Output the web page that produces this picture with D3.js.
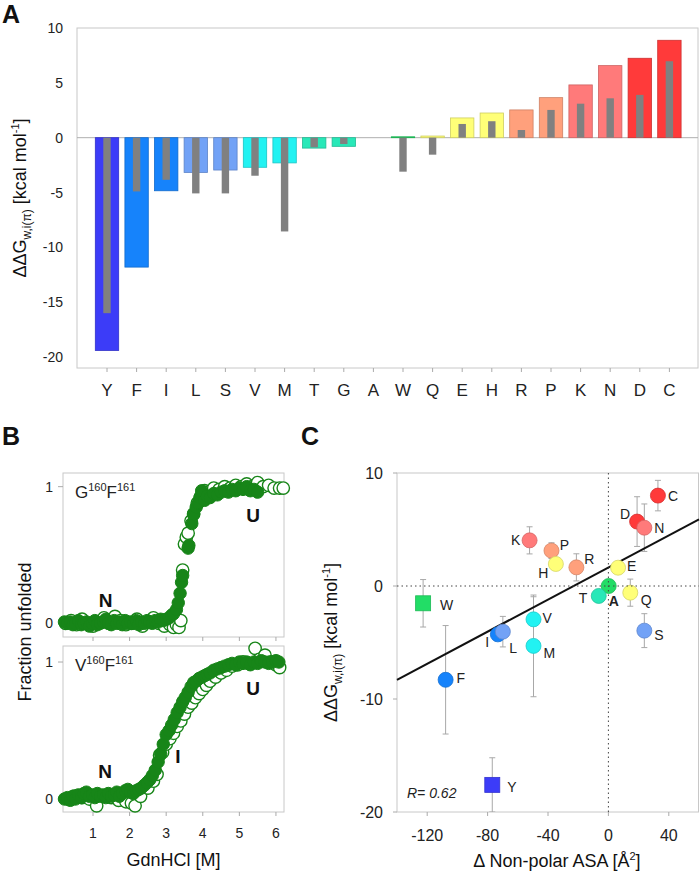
<!DOCTYPE html>
<html><head><meta charset="utf-8">
<script src="https://cdn.jsdelivr.net/npm/d3@7"></script>
<style>
body{margin:0;background:#fff;}
svg text{font-family:"Liberation Sans",Arial,sans-serif;}
</style></head>
<body><svg id="chart" width="700" height="871"></svg>
<script>
// ---------- Panel A data ----------
const aminoAcids = ['Y','F','I','L','S','V','M','T','G','A','W','Q','E','H','R','P','K','N','D','C'];
const ddgTotal = [-19.4,-11.8,-4.84,-3.17,-2.95,-2.7,-2.3,-0.95,-0.79,0,0.08,0.15,1.8,2.25,2.53,3.65,4.81,6.57,7.24,8.88];
const ddgPart  = [-16.0,-4.9,-3.84,-5.08,-5.08,-3.47,-8.55,-0.88,-0.58,0,-3.1,-1.55,1.25,1.5,0.7,2.53,3.1,3.59,3.9,6.97];
const yTicksA = [10,5,0,-5,-10,-15,-20];

// ---------- Panel B data (GdnHCl [M], fraction unfolded) ----------
const gfFilled = [[0.22,0.01],[0.3,0.0],[0.38,0.01],[0.45,-0.01],[0.52,0.0],[0.6,0.02],[0.68,-0.01],[0.75,0.0],[0.82,0.01],[0.9,-0.02],[0.98,0.0],[1.05,0.02],[1.12,-0.01],[1.2,0.0],[1.28,0.01],[1.35,0.03],[1.42,0.0],[1.5,-0.01],[1.58,0.02],[1.65,0.0],[1.72,0.01],[1.8,-0.01],[1.88,0.02],[1.95,0.0],[2.02,0.01],[2.1,0.0],[2.18,0.02],[2.25,-0.01],[2.32,0.01],[2.4,0.0],[2.48,0.02],[2.55,0.01],[2.62,0.0],[2.7,0.02],[2.78,0.01],[2.85,0.03],[2.92,0.02],[3.0,0.03],[3.08,0.04],[3.15,0.06],[3.2,0.07],[3.28,0.1],[3.33,0.15],[3.38,0.22],[3.42,0.3],[3.45,0.35],[3.6,0.55],[3.62,0.57],[3.7,0.73],[3.75,0.8],[3.82,0.85],[3.88,0.88],[3.92,0.92],[3.97,0.97],[4.05,0.9],[4.12,0.93],[4.2,0.92],[4.3,0.95],[4.4,0.94],[4.5,0.96],[4.6,0.97],[4.7,0.96],[4.8,0.98],[4.9,0.97],[5.0,0.99],[5.1,0.98],[5.2,1.0],[5.3,0.97],[5.4,0.98],[5.5,0.96]];
const gfOpen = [[0.25,0.0],[0.4,0.02],[0.55,-0.01],[0.7,0.03],[0.85,0.0],[1.0,-0.02],[1.15,0.01],[1.3,0.04],[1.45,0.0],[1.6,0.05],[1.75,0.02],[1.9,-0.01],[2.05,0.0],[2.2,0.03],[2.35,-0.02],[2.5,0.01],[2.65,0.04],[2.8,0.0],[2.95,-0.02],[3.1,-0.01],[3.2,-0.03],[3.28,-0.01],[3.35,-0.03],[3.4,0.02],[3.45,0.39],[3.5,0.58],[3.55,0.63],[3.6,0.66],[3.68,0.75],[3.75,0.8],[3.85,0.88],[3.95,0.93],[4.05,0.97],[4.15,0.96],[4.3,0.99],[4.45,0.98],[4.6,1.0],[4.75,0.99],[4.9,1.01],[5.05,1.0],[5.2,1.02],[5.35,1.0],[5.5,1.03],[5.65,1.0],[5.8,1.01],[5.95,0.99],[6.1,0.99],[6.2,0.99]];
const vfFilled = [[0.22,0.0],[0.3,0.01],[0.38,-0.01],[0.45,0.02],[0.52,0.0],[0.6,0.03],[0.68,0.01],[0.75,0.04],[0.82,0.05],[0.9,0.02],[0.98,0.03],[1.05,0.01],[1.12,0.04],[1.2,0.02],[1.28,0.03],[1.35,0.01],[1.42,0.04],[1.5,0.02],[1.58,0.03],[1.65,0.05],[1.72,0.02],[1.8,0.04],[1.88,0.06],[1.95,0.07],[2.02,0.05],[2.1,0.04],[2.18,0.06],[2.25,0.07],[2.32,0.08],[2.4,0.1],[2.48,0.12],[2.55,0.14],[2.62,0.17],[2.7,0.21],[2.78,0.27],[2.85,0.33],[2.92,0.4],[3.0,0.47],[3.08,0.5],[3.15,0.54],[3.22,0.58],[3.3,0.63],[3.38,0.67],[3.45,0.71],[3.52,0.74],[3.6,0.78],[3.68,0.82],[3.75,0.85],[3.82,0.86],[3.9,0.88],[3.98,0.89],[4.05,0.9],[4.12,0.91],[4.2,0.92],[4.3,0.94],[4.4,0.95],[4.5,0.96],[4.6,0.97],[4.7,0.98],[4.8,0.99],[4.9,0.98],[5.0,1.0],[5.1,0.99],[5.2,1.0],[5.3,0.98],[5.4,1.0],[5.5,0.99],[5.6,1.01],[5.7,1.0],[5.8,0.99],[5.9,1.0],[6.0,1.01],[6.08,1.0]];
const vfOpen = [[0.3,0.0],[0.5,0.02],[0.7,0.01],[0.9,0.0],[1.1,-0.05],[1.3,0.02],[1.5,0.01],[1.7,-0.01],[1.9,-0.02],[2.05,-0.03],[2.15,-0.05],[2.3,0.02],[2.5,0.08],[2.65,0.13],[2.75,0.18],[2.82,0.32],[2.9,0.34],[3.0,0.4],[3.1,0.44],[3.2,0.48],[3.3,0.53],[3.4,0.57],[3.5,0.62],[3.6,0.67],[3.7,0.7],[3.8,0.74],[3.9,0.77],[4.0,0.8],[4.1,0.83],[4.2,0.86],[4.35,0.89],[4.5,0.92],[4.65,0.94],[4.8,0.97],[4.95,0.98],[5.1,1.0],[5.25,0.99],[5.43,1.1],[5.55,1.02],[5.7,1.05],[5.85,1.0],[6.0,0.98],[6.1,0.96]];
const xTicksB = [1,2,3,4,5,6];
const yTicksB = [0,1];

// ---------- Panel C data ----------
const asaLabels = ['C','D','N','K','P','H','R','E','A','T','Q','W','V','S','I','L','M','F','Y'];
const asaX   = [32.8,19,23.8,-52.2,-37.7,-34.8,-21.2,6.4,0.2,-6.4,14.5,-122.7,-49.6,23.8,-73.2,-69.9,-49.6,-107.8,-76.9];
const asaY   = [8.0,5.7,5.16,4.04,3.13,1.95,1.65,1.62,0,-0.88,-0.59,-1.53,-2.95,-3.95,-4.28,-4.04,-5.3,-8.3,-17.6];
const asaErr = [1.35,2.2,2.1,1.2,0.7,0.5,1.2,0.5,0,0.5,1.2,2.1,2.0,1.5,0.5,1.35,4.5,4.8,2.4];
const fitX = [-140,60];
const fitY = [-8.3,5.9];
const xTicksC = [-120,-80,-40,0,40];
const yTicksC = [10,0,-10,-20];

// ---------- styles ----------
const aaColor = {Y:'#3c3cf8',F:'#1683fb',I:'#1683fb',L:'#72a2f6',S:'#72a2f6',V:'#22f2f2',M:'#22f2f2',
  T:'#28e8b8',G:'#28e8b8',A:'#22dd66',W:'#22dd66',Q:'#ffff78',E:'#ffff78',H:'#ffff78',
  R:'#ffa07c',P:'#ffa07c',K:'#ff7a7a',N:'#ff7a7a',D:'#ff3a3a',C:'#ff3a3a'};
const squareAA = new Set(['W','Y']);
const labelOffset = {C:[10,5,'start'],D:[-12,-3,'middle'],N:[15,5,'middle'],K:[-14,5,'middle'],P:[13,-1,'middle'],
  H:[-12.6,14,'middle'],R:[13,-3,'middle'],E:[9,3,'start'],A:[5,20,'middle'],T:[-15.6,7,'middle'],Q:[16,12,'middle'],
  W:[17,7,'start'],V:[9,4,'start'],S:[10,9,'start'],I:[-10.6,13,'middle'],L:[10.4,21,'middle'],M:[10,12,'start'],
  F:[11,3,'start'],Y:[15,7,'start']};
const frameColor = '#c8c8c8', tickColor = '#aaa', textColor = '#222', green = '#178518';

const svg = d3.select('#chart');

function panelLetter(t, x, y){
  svg.append('text').attr('x',x).attr('y',y).attr('font-size',25).attr('font-weight','bold').attr('fill','#111').text(t);
}
function ddgTitle(g, cx, cy){
  const t = g.append('text').attr('transform',`translate(${cx},${cy}) rotate(-90)`).attr('text-anchor','middle')
    .attr('font-size',18).attr('fill','#111');
  t.append('tspan').text('ΔΔG');
  t.append('tspan').attr('font-size',12).attr('dy',5).text('w,i(π)');
  t.append('tspan').attr('dy',-5).text(' [kcal mol');
  t.append('tspan').attr('font-size',11).attr('dy',-7).text('-1');
  t.append('tspan').attr('dy',7).text(']');
}

// ================= Panel A =================
panelLetter('A', 2, 23);
const A = {l:77, r:698, t:28, b:368};
const xA = d3.scaleBand().domain(aminoAcids).range([92.2, 684.2]).paddingInner(0.21).paddingOuter(0.105);
const yA = d3.scaleLinear().domain([-21,10]).range([A.b, A.t]);
const gA = svg.append('g');
gA.append('rect').attr('x',A.l).attr('y',A.t).attr('width',A.r-A.l).attr('height',A.b-A.t)
  .attr('fill','none').attr('stroke',frameColor);
gA.append('line').attr('x1',A.l).attr('x2',A.r).attr('y1',yA(0)).attr('y2',yA(0)).attr('stroke','#b0b0b0');
gA.selectAll('.ya').data(yTicksA).join('text').attr('x',A.l-14).attr('y',d=>yA(d)+5)
  .attr('text-anchor','end').attr('font-size',14).attr('fill',textColor).text(d=>d);
const xAxisA = d3.axisBottom(xA).tickSize(4).tickPadding(12);
const axA = gA.append('g').attr('transform',`translate(0,${A.b})`).call(xAxisA);
axA.select('.domain').remove();
axA.selectAll('line').attr('stroke',tickColor);
axA.selectAll('text').attr('font-size',17).attr('fill',textColor).attr('font-family','"Liberation Sans",Arial,sans-serif');
const bw = xA.bandwidth();
gA.selectAll('.bar').data(aminoAcids).join('rect')
  .attr('x',d=>xA(d)).attr('width',bw)
  .attr('y',(d,i)=>yA(Math.max(0,ddgTotal[i]))).attr('height',(d,i)=>Math.abs(yA(ddgTotal[i])-yA(0)))
  .attr('fill',d=>aaColor[d]).attr('stroke',d=>d3.color(aaColor[d]).darker(0.6)).attr('stroke-width',0.8)
  .attr('display',(d,i)=>ddgTotal[i]===0?'none':null);
const gw = 7.4;
gA.selectAll('.pbar').data(aminoAcids).join('rect')
  .attr('x',d=>xA(d)+bw/2-gw/2).attr('width',gw)
  .attr('y',(d,i)=>yA(Math.max(0,ddgPart[i]))).attr('height',(d,i)=>Math.abs(yA(ddgPart[i])-yA(0)))
  .attr('fill','#808080');
ddgTitle(gA, 26, (A.t+A.b)/2);

// ================= Panel B =================
panelLetter('B', 2, 445);
const B = {l:63, r:284};
const subs = [
  {t:473, b:637, dom:[-0.1,1.1], open:gfOpen, filled:gfFilled, name:['G','160','F','161'], labels:[['U',253,522],['N',105.5,607]]},
  {t:646, b:812, dom:[-0.095,1.117], open:vfOpen, filled:vfFilled, name:['V','160','F','161'], labels:[['U',253,695],['N',105,778],['I',178,763]]}
];
const xB = d3.scaleLinear().domain([0.18,6.22]).range([B.l,B.r]);
subs.forEach((s,k)=>{
  const g = svg.append('g');
  const y = d3.scaleLinear().domain(s.dom).range([s.b,s.t]);
  g.append('rect').attr('x',B.l).attr('y',s.t).attr('width',B.r-B.l).attr('height',s.b-s.t)
    .attr('fill','none').attr('stroke',frameColor);
  g.selectAll('.yt').data(yTicksB).join('line').attr('x1',B.l-5).attr('x2',B.l).attr('y1',d=>y(d)).attr('y2',d=>y(d)).attr('stroke',tickColor);
  g.selectAll('.yl').data(yTicksB).join('text').attr('x',B.l-10).attr('y',d=>y(d)+5).attr('text-anchor','end')
    .attr('font-size',14).attr('fill',textColor).text(d=>d);
  g.selectAll('.xt').data(xTicksB).join('line').attr('x1',d=>xB(d)).attr('x2',d=>xB(d)).attr('y1',s.b).attr('y2',s.b+4).attr('stroke',tickColor);
  if(k===1){
    g.selectAll('.xl').data(xTicksB).join('text').attr('x',d=>xB(d)).attr('y',s.b+26).attr('text-anchor','middle')
      .attr('font-size',14).attr('fill',textColor).text(d=>d);
  }
  g.selectAll('.op').data(s.open).join('circle').attr('cx',d=>xB(d[0])).attr('cy',d=>y(d[1])).attr('r',6.2)
    .attr('fill','#fff').attr('stroke',green).attr('stroke-width',1.4);
  g.selectAll('.fp').data(s.filled).join('circle').attr('cx',d=>xB(d[0])).attr('cy',d=>y(d[1])).attr('r',6.2)
    .attr('fill',green).attr('stroke',green).attr('stroke-width',1);
  const nm = g.append('text').attr('x',75).attr('y',s.t+25).attr('font-size',17).attr('fill','#222');
  nm.append('tspan').text(s.name[0]);
  nm.append('tspan').attr('font-size',11).attr('dy',-7).text(s.name[1]);
  nm.append('tspan').attr('dy',7).text(s.name[2]);
  nm.append('tspan').attr('font-size',11).attr('dy',-7).text(s.name[3]);
  s.labels.forEach(l=>{
    g.append('text').attr('x',l[1]).attr('y',l[2]).attr('text-anchor','middle').attr('font-size',19)
      .attr('font-weight','bold').attr('fill','#111').text(l[0]);
  });
});
svg.append('text').attr('x',(B.l+B.r)/2).attr('y',866).attr('text-anchor','middle').attr('font-size',18).attr('fill','#111').text('GdnHCl [M]');
svg.append('text').attr('transform',`translate(31,632) rotate(-90)`).attr('text-anchor','middle').attr('font-size',18).attr('fill','#111').text('Fraction unfolded');

// ================= Panel C =================
panelLetter('C', 301, 445);
const C = {l:397, r:699, t:473, b:812};
const xC = d3.scaleLinear().domain([-140,60]).range([C.l,C.r]);
const yC = d3.scaleLinear().domain([-20,10]).range([C.b,C.t]);
const gC = svg.append('g');
gC.append('rect').attr('x',C.l).attr('y',C.t).attr('width',C.r-C.l-0.5).attr('height',C.b-C.t)
  .attr('fill','none').attr('stroke',frameColor);
gC.selectAll('.yt').data(yTicksC).join('line').attr('x1',C.l-4).attr('x2',C.l).attr('y1',d=>yC(d)).attr('y2',d=>yC(d)).attr('stroke',tickColor);
gC.selectAll('.yl').data(yTicksC).join('text').attr('x',C.l-14).attr('y',d=>yC(d)+6).attr('text-anchor','end')
  .attr('font-size',16).attr('fill',textColor).text(d=>d);
gC.selectAll('.xt').data(xTicksC).join('line').attr('x1',d=>xC(d)).attr('x2',d=>xC(d)).attr('y1',C.b).attr('y2',C.b+4).attr('stroke',tickColor);
gC.selectAll('.xl').data(xTicksC).join('text').attr('x',d=>xC(d)).attr('y',C.b+29).attr('text-anchor','middle')
  .attr('font-size',16).attr('fill',textColor).text(d=>d);
const pts = asaLabels.map((l,i)=>({l, x:asaX[i], y:asaY[i], e:asaErr[i]}));
const clipId='clipC';
svg.append('defs').append('clipPath').attr('id',clipId).append('rect').attr('x',C.l).attr('y',C.t).attr('width',C.r-C.l).attr('height',C.b-C.t);
const eg = gC.append('g').attr('clip-path',`url(#${clipId})`);
pts.filter(p=>p.e>0).forEach(p=>{
  const cx=xC(p.x);
  eg.append('line').attr('x1',cx).attr('x2',cx).attr('y1',yC(p.y+p.e)).attr('y2',yC(p.y-p.e)).attr('stroke','#a8a8a8');
  [p.y+p.e,p.y-p.e].forEach(v=>eg.append('line').attr('x1',cx-3).attr('x2',cx+3).attr('y1',yC(v)).attr('y2',yC(v)).attr('stroke','#a8a8a8'));
});
gC.append('line').attr('x1',xC(fitX[0])).attr('y1',yC(fitY[0])).attr('x2',xC(fitX[1])).attr('y2',yC(fitY[1]))
  .attr('stroke','#111').attr('stroke-width',2);
pts.forEach(p=>{
  const cx=xC(p.x), cy=yC(p.y), col=aaColor[p.l];
  if(squareAA.has(p.l)){
    gC.append('rect').attr('x',cx-7.5).attr('y',cy-7.5).attr('width',15).attr('height',15)
      .attr('fill',col).attr('stroke',d3.color(col).darker(0.5)).attr('stroke-width',0.8);
  } else {
    gC.append('circle').attr('cx',cx).attr('cy',cy).attr('r',7.5)
      .attr('fill',col).attr('stroke',d3.color(col).darker(0.5)).attr('stroke-width',0.8);
  }
  const o = labelOffset[p.l];
  gC.append('text').attr('x',cx+o[0]).attr('y',cy+o[1]).attr('text-anchor',o[2]).attr('font-size',14)
    .attr('font-weight',p.l==='A'?'bold':null).attr('fill','#222').text(p.l);
});
gC.append('line').attr('x1',xC(0)).attr('x2',xC(0)).attr('y1',C.t).attr('y2',C.b).attr('stroke','#444').attr('stroke-dasharray','1.5,3');
gC.append('line').attr('x1',C.l).attr('x2',C.r).attr('y1',yC(0)).attr('y2',yC(0)).attr('stroke','#444').attr('stroke-dasharray','1.5,3');
gC.append('text').attr('x',407).attr('y',798).attr('font-size',14).attr('font-style','italic').attr('fill','#222').text('R= 0.62');
ddgTitle(gC, 337, (C.t+C.b)/2);
const xt = gC.append('text').attr('x',557).attr('y',867).attr('text-anchor','middle').attr('font-size',18).attr('fill','#111');
xt.append('tspan').text('Δ Non-polar ASA [Å');
xt.append('tspan').attr('font-size',11).attr('dy',-7).text('2');
xt.append('tspan').attr('dy',7).text(']');
</script></body></html>
